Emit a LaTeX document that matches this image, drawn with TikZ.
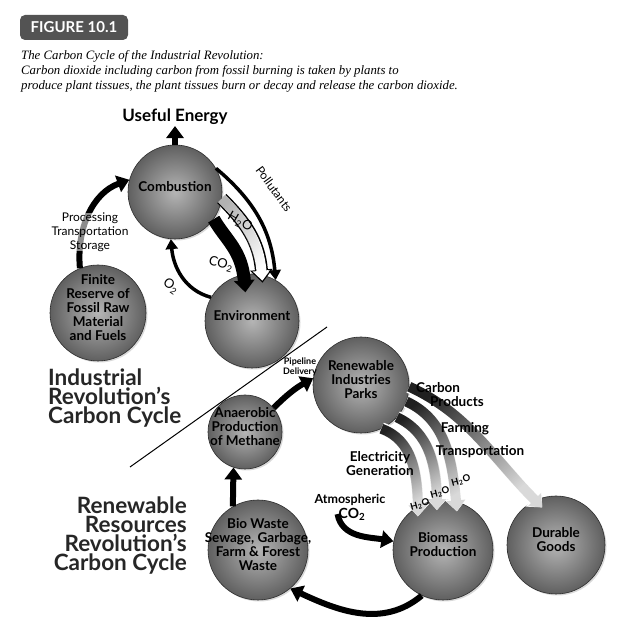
\documentclass[tikz,border=0pt]{standalone}
\usepackage{fontspec}
\newfontfamily\gill{Lato}
\newfontfamily\capfont{Liberation Serif}
\usetikzlibrary{arrows.meta,shadows,fadings}

\tikzfading[name=fadedown, top color=transparent!0, middle color=transparent!40, bottom color=transparent!100]
\newcommand{\balltext}[1]{\smash{\makebox[0pt]{\begin{tabular}{@{}c@{}}#1\end{tabular}}}}

\begin{document}
\begin{tikzpicture}[x=1pt,y=1pt]
    \tikzset{ball/.style={circle,draw=gray!35!black,line width=0.6pt,inner color=gray!58,outer color=gray!75!black,text=black,inner sep=0pt,font=\gill\bfseries\fontsize{13.5}{13.5}\selectfont,drop shadow={opacity=0.3,shadow xshift=1.5pt,shadow yshift=-1.5pt}}}
    \tikzset{lbl/.style={align=center,inner sep=1pt,font=\gill\bfseries\fontsize{13.5}{14}\selectfont}}
    \tikzset{big/.style={inner sep=0pt,font=\gill\bfseries\fontsize{22.5}{18.7}\selectfont,text=black!85}}
    \tikzstyle{blk}=[line width=6pt,-{Triangle[length=12pt,width=17pt]}]
    \tikzstyle{thinblk}=[line width=3.5pt,-{Triangle[length=10pt,width=12pt]}]
    \tikzset{grad/.style={line width=10pt,draw=gray!30,shorten >=-10pt,-{Triangle[length=11pt,width=18pt]},
        preaction={draw=white,line width=13pt,-{Triangle[length=12.5pt,width=22pt]}},
        postaction={draw=gray!25!black,-,path fading=fadedown,fading angle=#1}},grad/.default=0}
    \tikzset{hollow/.style={line width=10pt,draw=white,shorten >=-6pt,-{Triangle[length=10pt,width=17pt]},
        preaction={draw=black,line width=13pt,shorten >=-8pt,-{Triangle[length=13pt,width=22pt]}},
        postaction={draw=gray!60,-,path fading=fadedown,fading angle=30}}}
    \useasboundingbox (0,0) rectangle (628,631);

    \node[fill=gray!65!black,rounded corners=5pt,minimum width=108pt,minimum height=25pt,text=white,font=\gill\bfseries\fontsize{15}{15}\selectfont] (FIG) at (74,603.5) {FIGURE 10.1};
    \node[anchor=north west,align=left,inner sep=0pt,font=\capfont\itshape\fontsize{12.8}{15.3}\selectfont] (CAP) at (21,581) {The Carbon Cycle of the Industrial Revolution:\\Carbon dioxide including carbon from fossil burning is taken by plants to\\produce plant tissues, the plant tissues burn or decay and release the carbon dioxide.};

    \node[ball,minimum size=94pt] (COMB) at (175,439) {\balltext{Combustion}};
    \node[ball,minimum size=96pt] (FOSS) at (98,318) {\balltext{Finite\\Reserve of\\Fossil Raw\\Material\\and Fuels}};
    \node[ball,minimum size=94pt] (ENV) at (252,310) {\balltext{Environment}};
    \node[ball,minimum size=96pt] (RIP) at (361,246) {\balltext{Renewable\\Industries\\Parks}};
    \node[ball,minimum size=74pt] (METH) at (245,199) {\balltext{Anaerobic\\Production\\of Methane}};
    \node[ball,minimum size=100pt] (BIOW) at (258,81) {\balltext{Bio Waste\\Sewage, Garbage,\\Farm \& Forest\\Waste}};
    \node[ball,minimum size=100pt] (BIOM) at (443,81) {\balltext{Biomass\\Production}};
    \node[ball,minimum size=98pt] (DUR) at (556,86) {\balltext{Durable\\Goods}};

    \node[lbl,font=\gill\bfseries\fontsize{17}{17}\selectfont] (UE) at (175,514) {Useful Energy};

    \draw[blk] (FOSS.112) to[out=95,in=200] (COMB.165);
    \draw[blk] (COMB.north) -- (UE.south);
    \draw[line width=13pt,-{Triangle[length=12pt,width=20pt]},shorten >=-18pt] (COMB.-35) to[out=-60,in=95] (ENV.100);
    \draw[hollow] (COMB.-8) to[out=-45,in=95] (ENV.78);
    \draw[thinblk] (COMB.30) to[out=-40,in=95] (ENV.60);
    \draw[thinblk] (ENV.150) to[out=165,in=-85] (COMB.-95);

    \node[lbl,font=\gill\fontsize{12}{14}\selectfont,fill=white,fill opacity=0.55,text opacity=1,inner sep=0pt] (PTS) at (90,399) {Processing\\Transportation\\Storage};
    \node[lbl,font=\gill\fontsize{12}{12}\selectfont,rotate=-54] (POL) at (274,442) {Pollutants};
    \node[lbl,font=\gill\fontsize{13}{13}\selectfont,rotate=-30] (H2Oa) at (240,409) {H\textsubscript{2}O};
    \node[lbl,font=\gill\fontsize{13}{13}\selectfont,rotate=-15] (CO2a) at (221,367) {CO\textsubscript{2}};
    \node[lbl,font=\gill\fontsize{13}{13}\selectfont,rotate=-35] (O2a) at (171,345) {O\textsubscript{2}};

    \coordinate (divA) at (130,164);
    \coordinate (divB) at (327,304);
    \draw[line width=1pt] (divA) -- (divB);

    \node[big,anchor=north west,align=left] (IRC) at (48,262) {Industrial\\Revolution’s\\Carbon Cycle};
    \node[big,anchor=north east,align=right] (RRC) at (187,134) {Renewable\\Resources\\Revolution’s\\Carbon Cycle};

    \node[lbl,font=\gill\bfseries\fontsize{9}{10}\selectfont] (PD) at (300,264) {Pipeline\\Delivery};
    \draw[blk] (BIOW.120) -- (METH.-108);
    \draw[blk] (METH.40) to[bend left=8] (RIP.172);

    \draw[grad=20] (RIP.-65) to[out=-20,in=90] (BIOM.120);
    \draw[grad=20] (RIP.-42) to[out=-25,in=90] (BIOM.97);
    \draw[grad=20] (RIP.-20) to[out=-25,in=95] (BIOM.75);
    \draw[grad=45] (RIP.-2) to[out=-25,in=135] (DUR.115);

    \node[lbl,align=left,anchor=north west] (CP) at (415,250) {Carbon\\\hspace*{14pt}Products};
    \node[lbl] (FARM) at (465,202) {Farming};
    \node[lbl] (TRANS) at (480,179) {Transportation};
    \node[lbl] (ELEC) at (380,167) {Electricity\\Generation};
    \node[lbl,font=\gill\bfseries\fontsize{9.5}{9.5}\selectfont,rotate=15] (H2Ob) at (461,150) {H\textsubscript{2}O};
    \node[lbl,font=\gill\bfseries\fontsize{9.5}{9.5}\selectfont,rotate=15] (H2Oc) at (440,138) {H\textsubscript{2}O};
    \node[lbl,font=\gill\bfseries\fontsize{9.5}{9.5}\selectfont,rotate=15] (H2Od) at (420,126) {H\textsubscript{2}O};

    \node[lbl,font=\gill\bfseries\fontsize{12.5}{12.5}\selectfont] (ATM) at (350,131) {Atmospheric};
    \node[lbl,font=\gill\bfseries\fontsize{14}{14}\selectfont] (ACO2) at (352,117) {CO\textsubscript{2}};
    \draw[blk] (ACO2.west) to[out=-80,in=170] (BIOM.170);
    \draw[blk] (BIOM.-115) to[out=-140,in=-25] (BIOW.-50);
\end{tikzpicture}
\end{document}
